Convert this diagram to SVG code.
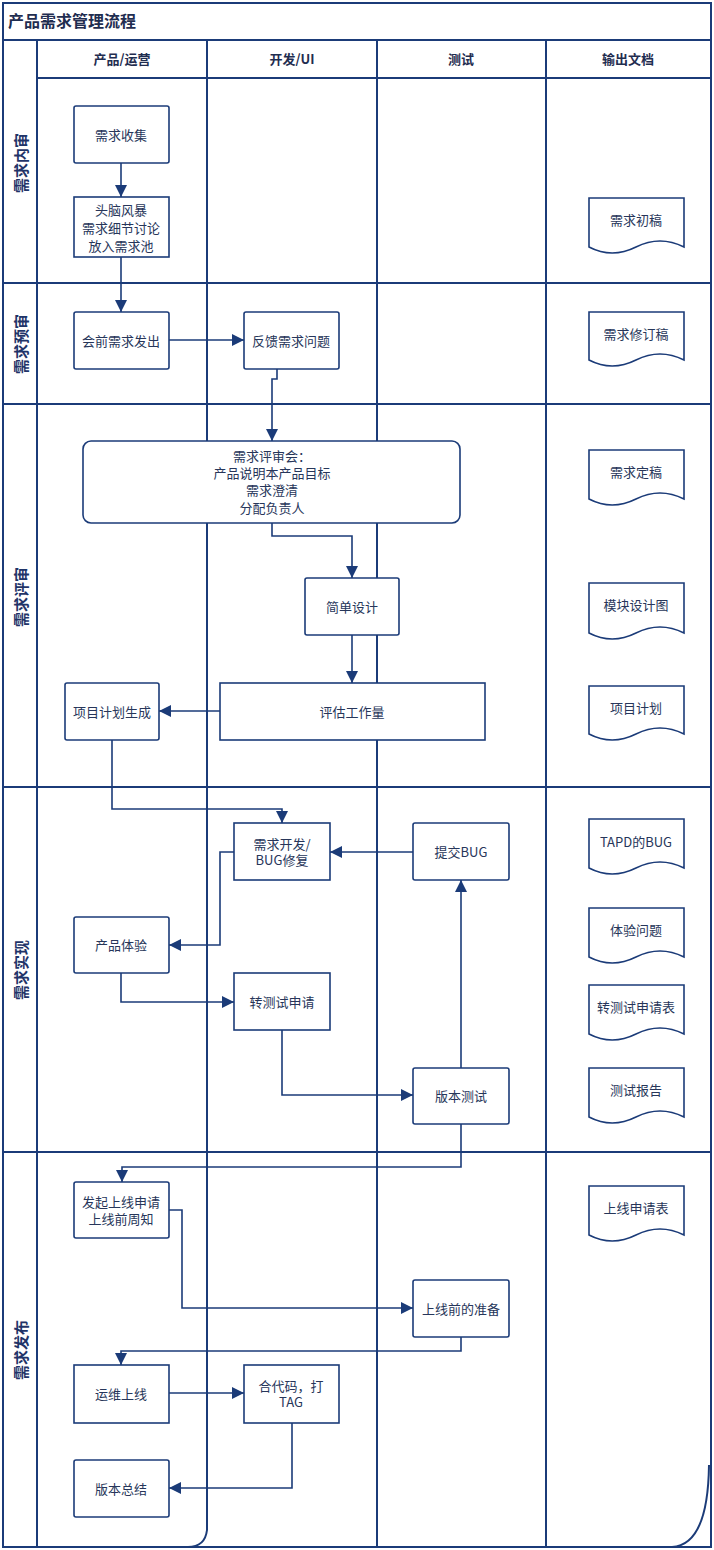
<svg xmlns="http://www.w3.org/2000/svg" width="714" height="1550" viewBox="0 0 714 1550">
<defs>
<style>
.frame{fill:none;stroke:#1b3b78;stroke-width:2}
.box{fill:#fff;stroke:#1b3b78;stroke-width:1.6}
.doc{fill:#fff;stroke:#1b3b78;stroke-width:1.6}
.con{fill:none;stroke:#1b3b78;stroke-width:1.6;marker-end:url(#ah)}
.t{font-family:"Noto Sans CJK SC","Noto Sans",sans-serif;font-size:13px;fill:#27365a;text-anchor:middle;dominant-baseline:central}
.h{font-family:"Noto Sans CJK SC","Noto Sans",sans-serif;font-size:13px;font-weight:bold;fill:#1f2d50;text-anchor:middle;dominant-baseline:central}
.lane{font-family:"Noto Sans CJK SC","Noto Sans",sans-serif;font-size:15px;font-weight:bold;fill:#1f3468;text-anchor:middle;dominant-baseline:central}
.title{font-family:"Noto Sans CJK SC","Noto Sans",sans-serif;font-size:16px;font-weight:bold;fill:#1f2d50;dominant-baseline:central}
</style>
<marker id="ah" viewBox="0 0 10 10" refX="10" refY="5" markerWidth="12" markerHeight="12" markerUnits="userSpaceOnUse" orient="auto">
<path d="M0,0 L10,5 L0,10 Z" fill="#1b3b78"/>
</marker>
</defs>
<rect x="0" y="0" width="714" height="1550" fill="#fff"/>
<g id="frame">
<rect class="frame" x="3" y="3" width="708" height="1544"/>
<line class="frame" x1="3" y1="40" x2="711" y2="40"/>
<line class="frame" x1="37" y1="78" x2="711" y2="78"/>
<line class="frame" x1="37" y1="40" x2="37" y2="1547"/>
<line class="frame" x1="207" y1="40" x2="207" y2="1530"/>
<path class="frame" d="M207,1530 Q205,1547 188,1547"/>
<line class="frame" x1="377" y1="40" x2="377" y2="1547"/>
<line class="frame" x1="546" y1="40" x2="546" y2="1547"/>
<line class="frame" x1="3" y1="283" x2="711" y2="283"/>
<line class="frame" x1="3" y1="404" x2="711" y2="404"/>
<line class="frame" x1="3" y1="787" x2="711" y2="787"/>
<line class="frame" x1="3" y1="1152" x2="711" y2="1152"/>
<path class="frame" d="M709,1465 Q708,1545 672,1547"/>
<text class="title" x="8" y="20">产品需求管理流程</text>
<text class="h" x="122" y="58">产品/运营</text>
<text class="h" x="292" y="58">开发/UI</text>
<text class="h" x="461" y="58">测试</text>
<text class="h" x="628" y="58">输出文档</text>
<text class="lane" transform="translate(20,163) rotate(-90)">需求内审</text>
<text class="lane" transform="translate(20,344) rotate(-90)">需求预审</text>
<text class="lane" transform="translate(20,597) rotate(-90)">需求评审</text>
<text class="lane" transform="translate(20,970) rotate(-90)">需求实现</text>
<text class="lane" transform="translate(20,1350) rotate(-90)">需求发布</text>
</g>
<g id="connectors">
<path class="con" d="M121,163 V197"/>
<path class="con" d="M121,257 V312"/>
<path class="con" d="M169,340 H244"/>
<path class="con" d="M277,369 V379 H272 V441"/>
<path class="con" d="M272,523 V536 H352 V578"/>
<path class="con" d="M352,635 V683"/>
<path class="con" d="M220,711 H159"/>
<path class="con" d="M112,740 V809 H282 V823"/>
<path class="con" d="M413,852 H330"/>
<path class="con" d="M234,852 H220 V945 H169"/>
<path class="con" d="M121,973 V1002 H234"/>
<path class="con" d="M282,1030 V1095 H413"/>
<path class="con" d="M461,1068 V880"/>
<path class="con" d="M461,1124 V1167 H122 V1182"/>
<path class="con" d="M169,1210 H182 V1308 H413"/>
<path class="con" d="M461,1337 V1351 H121 V1365"/>
<path class="con" d="M169,1393 H244"/>
<path class="con" d="M292,1423 V1488 H169"/>
</g>
<g id="n-collect"><rect class="box" x="74" y="106" width="95" height="57" rx="2"/><text class="t" x="121" y="134">需求收集</text></g>
<g id="n-brainstorm"><rect class="box" x="74" y="197" width="95" height="60"/><text class="t" x="121" y="209">头脑风暴</text><text class="t" x="121" y="227">需求细节讨论</text><text class="t" x="121" y="245">放入需求池</text></g>
<g id="n-pre"><rect class="box" x="74" y="312" width="95" height="57" rx="2"/><text class="t" x="121" y="340">会前需求发出</text></g>
<g id="n-feedback"><rect class="box" x="244" y="312" width="95" height="57" rx="2"/><text class="t" x="291" y="340">反馈需求问题</text></g>
<g id="n-review"><rect class="box" x="83" y="441" width="377" height="82" rx="8"/><text class="t" x="272" y="455">需求评审会：</text><text class="t" x="272" y="472">产品说明本产品目标</text><text class="t" x="272" y="489">需求澄清</text><text class="t" x="272" y="507">分配负责人</text></g>
<g id="n-design"><rect class="box" x="305" y="578" width="94" height="57" rx="2"/><text class="t" x="352" y="606">简单设计</text></g>
<g id="n-estimate"><rect class="box" x="220" y="683" width="265" height="57"/><text class="t" x="352" y="711">评估工作量</text></g>
<g id="n-plan"><rect class="box" x="65" y="683" width="94" height="57" rx="2"/><text class="t" x="112" y="711">项目计划生成</text></g>
<g id="n-dev"><rect class="box" x="234" y="823" width="96" height="57"/><text class="t" x="282" y="843">需求开发/</text><text class="t" x="282" y="859">BUG修复</text></g>
<g id="n-bug"><rect class="box" x="413" y="823" width="96" height="57" rx="2"/><text class="t" x="461" y="851">提交BUG</text></g>
<g id="n-exp"><rect class="box" x="74" y="917" width="95" height="56" rx="2"/><text class="t" x="121" y="944">产品体验</text></g>
<g id="n-totest"><rect class="box" x="234" y="973" width="96" height="57"/><text class="t" x="282" y="1001">转测试申请</text></g>
<g id="n-vtest"><rect class="box" x="413" y="1068" width="96" height="56" rx="2"/><text class="t" x="461" y="1095">版本测试</text></g>
<g id="n-apply"><rect class="box" x="74" y="1182" width="95" height="56" rx="2"/><text class="t" x="121" y="1201">发起上线申请</text><text class="t" x="121" y="1218">上线前周知</text></g>
<g id="n-prep"><rect class="box" x="413" y="1280" width="96" height="57" rx="2"/><text class="t" x="461" y="1308">上线前的准备</text></g>
<g id="n-ops"><rect class="box" x="74" y="1365" width="95" height="58"/><text class="t" x="121" y="1393">运维上线</text></g>
<g id="n-merge"><rect class="box" x="244" y="1365" width="95" height="58"/><text class="t" x="291" y="1385">合代码，打</text><text class="t" x="291" y="1401">TAG</text></g>
<g id="n-summary"><rect class="box" x="74" y="1460" width="95" height="57" rx="2"/><text class="t" x="121" y="1488">版本总结</text></g>
<g id="d-draft"><path class="doc" d="M589,198 H684 V247 Q660,235 636,247 T589,247 Z"/><text class="t" x="636" y="219">需求初稿</text></g>
<g id="d-revise"><path class="doc" d="M589,312 H684 V360 Q660,348 636,360 T589,360 Z"/><text class="t" x="636" y="333">需求修订稿</text></g>
<g id="d-final"><path class="doc" d="M589,450 H684 V499 Q660,487 636,499 T589,499 Z"/><text class="t" x="636" y="471">需求定稿</text></g>
<g id="d-module"><path class="doc" d="M589,583 H684 V633 Q660,621 636,633 T589,633 Z"/><text class="t" x="636" y="604">模块设计图</text></g>
<g id="d-plan"><path class="doc" d="M589,686 H684 V734 Q660,722 636,734 T589,734 Z"/><text class="t" x="636" y="707">项目计划</text></g>
<g id="d-tapd"><path class="doc" d="M589,819 H684 V868 Q660,856 636,868 T589,868 Z"/><text class="t" x="636" y="841">TAPD的BUG</text></g>
<g id="d-exp"><path class="doc" d="M589,908 H684 V957 Q660,945 636,957 T589,957 Z"/><text class="t" x="636" y="929">体验问题</text></g>
<g id="d-totest"><path class="doc" d="M589,985 H684 V1034 Q660,1022 636,1034 T589,1034 Z"/><text class="t" x="636" y="1006">转测试申请表</text></g>
<g id="d-report"><path class="doc" d="M589,1068 H684 V1117 Q660,1105 636,1117 T589,1117 Z"/><text class="t" x="636" y="1089">测试报告</text></g>
<g id="d-release"><path class="doc" d="M589,1186 H684 V1235 Q660,1223 636,1235 T589,1235 Z"/><text class="t" x="636" y="1207">上线申请表</text></g>
</svg>
